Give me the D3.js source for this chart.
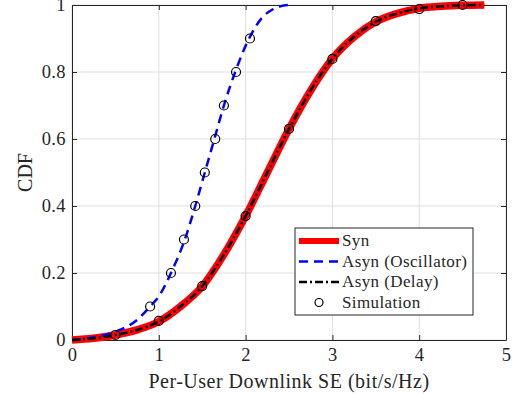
<!DOCTYPE html>
<html>
<head>
<meta charset="utf-8">
<script src="https://cdn.jsdelivr.net/npm/d3@7"></script>
<style>
body { margin: 0; background: #fff; }
text { font-family: "Liberation Serif", "DejaVu Serif", serif; fill: #262626; }
</style>
</head>
<body>
<div id="chart"></div>
<script>
// Syn curve (also Asyn Delay, overlapping)
var synX = [0, 0.25, 0.5, 0.75, 1, 1.25, 1.5, 1.75, 2, 2.25, 2.5, 2.75, 3, 3.25, 3.5, 3.75, 4, 4.25, 4.5, 4.75];
var synY = [0, 0.005, 0.015, 0.03, 0.055, 0.1, 0.16, 0.255, 0.37, 0.5, 0.63, 0.745, 0.84, 0.905, 0.95, 0.975, 0.99, 0.996, 0.999, 1.0];
var delayY = [0, 0.005, 0.015, 0.03, 0.055, 0.1, 0.16, 0.255, 0.37, 0.5, 0.63, 0.745, 0.84, 0.905, 0.95, 0.975, 0.99, 0.996, 0.999, 1.0];

// Asyn (Oscillator)
var oscX = [0, 0.25, 0.5, 0.75, 0.9, 1.0, 1.14, 1.3, 1.42, 1.53, 1.64, 1.75, 1.88, 2.04, 2.2, 2.3, 2.4, 2.5];
var oscY = [0, 0.008, 0.025, 0.06, 0.1, 0.13, 0.2, 0.3, 0.4, 0.5, 0.6, 0.7, 0.8, 0.9, 0.965, 0.985, 0.996, 1.0];

// Simulation markers
var simSynX = [0.5, 1, 1.5, 2, 2.5, 3, 3.5, 4, 4.5];
var simSynY = [0.015, 0.057, 0.161, 0.37, 0.63, 0.839, 0.952, 0.988, 1.0];
var simOscX = [0.9, 1.14, 1.29, 1.42, 1.53, 1.65, 1.75, 1.89, 2.05];
var simOscY = [0.1, 0.2, 0.3, 0.4, 0.5, 0.6, 0.7, 0.8, 0.9];

var xTicks = [0, 1, 2, 3, 4, 5];
var yTicks = [0, 0.2, 0.4, 0.6, 0.8, 1];

var W = 516, H = 395;
var margin = {top: 5, right: 10, bottom: 55, left: 72};
var width = W - margin.left - margin.right,
    height = H - margin.top - margin.bottom;

var svg = d3.select("#chart").append("svg")
    .attr("width", W)
    .attr("height", H);

var g = svg.append("g")
    .attr("transform", "translate(" + margin.left + "," + margin.top + ")");

var x = d3.scaleLinear().domain([0, 5]).range([0, width]);
var y = d3.scaleLinear().domain([0, 1]).range([height, 0]);

// grid
g.selectAll(".gx").data(xTicks).enter().append("line")
    .attr("x1", d => x(d)).attr("x2", d => x(d))
    .attr("y1", 0).attr("y2", height)
    .attr("stroke", "#dfdfdf").attr("stroke-width", 1);
g.selectAll(".gy").data(yTicks).enter().append("line")
    .attr("y1", d => y(d)).attr("y2", d => y(d))
    .attr("x1", 0).attr("x2", width)
    .attr("stroke", "#dfdfdf").attr("stroke-width", 1);

// axes
var xAxis = d3.axisBottom(x).tickValues(xTicks).tickFormat(d3.format("d")).tickSizeInner(-5).tickSizeOuter(0).tickPadding(8);
var yAxis = d3.axisLeft(y).tickValues(yTicks).tickFormat(d => d === 0 || d === 1 ? d : d3.format(".1f")(d)).tickSizeInner(-5).tickSizeOuter(0).tickPadding(6);

var gx = g.append("g").attr("transform", "translate(0," + height + ")").call(xAxis);
var gy = g.append("g").call(yAxis);
var gxt = g.append("g").call(d3.axisTop(x).tickValues(xTicks).tickFormat("").tickSizeInner(-5).tickSizeOuter(0));
var gyr = g.append("g").attr("transform", "translate(" + width + ",0)")
    .call(d3.axisRight(y).tickValues(yTicks).tickFormat("").tickSizeInner(-5).tickSizeOuter(0));

[gx, gy, gxt, gyr].forEach(function (a) {
    a.select(".domain").attr("stroke", "#262626").attr("stroke-width", 1);
    a.selectAll(".tick line").attr("stroke", "#262626");
    a.selectAll(".tick text").style("font-size", "18.5px").style("font-family", "Liberation Serif, serif")
        .style("letter-spacing", "0.4px").attr("fill", "#262626");
});

var line = d3.line()
    .x(d => x(d[0]))
    .y(d => y(d[1]))
    .curve(d3.curveMonotoneX);

var plot = g.append("g");

plot.append("path")
    .datum(synX.map((d, i) => [d, synY[i]]))
    .attr("d", line)
    .attr("fill", "none").attr("stroke", "#ff0000").attr("stroke-width", 7.5);

plot.append("path")
    .datum(oscX.map((d, i) => [d, oscY[i]]))
    .attr("d", line)
    .attr("fill", "none").attr("stroke", "#0000ff").attr("stroke-width", 2.5)
    .attr("stroke-dasharray", "9,6");

plot.append("path")
    .datum(synX.map((d, i) => [d, delayY[i]]))
    .attr("d", line)
    .attr("fill", "none").attr("stroke", "#000").attr("stroke-width", 2.5)
    .attr("stroke-dasharray", "8,3,2,3");

var sims = simSynX.map((d, i) => [d, simSynY[i]])
    .concat(simOscX.map((d, i) => [d, simOscY[i]]));

plot.selectAll(".sim").data(sims).enter().append("circle")
    .attr("cx", d => x(d[0])).attr("cy", d => y(d[1]))
    .attr("r", 4.5)
    .attr("fill", "none").attr("stroke", "#000").attr("stroke-width", 1.2);

// axis labels
svg.append("text")
    .attr("x", 289).attr("y", 388)
    .attr("text-anchor", "middle")
    .style("font-size", "20px")
    .style("letter-spacing", "0.5px")
    .text("Per-User Downlink SE (bit/s/Hz)");

svg.append("text")
    .attr("transform", "translate(32," + (margin.top + height / 2) + ") rotate(-90)")
    .attr("text-anchor", "middle")
    .style("font-size", "20px")
    .text("CDF");

// legend
var legX = 295, legY = 228;
var leg = svg.append("g");
leg.append("rect")
    .attr("x", legX).attr("y", legY).attr("width", 178).attr("height", 87)
    .attr("fill", "#fff").attr("stroke", "#262626").attr("stroke-width", 1);

var legItems = [
    {label: "Syn", color: "#ff0000", w: 6, dash: null},
    {label: "Asyn (Oscillator)", color: "#0000ff", w: 2.5, dash: "9,6"},
    {label: "Asyn (Delay)", color: "#000", w: 2.5, dash: "8,3,2,3"},
    {label: "Simulation", color: null}
];

legItems.forEach(function (d, i) {
    var yy = legY + 13 + i * 20.5;
    if (d.color) {
        leg.append("line")
            .attr("x1", legX + 4).attr("x2", legX + 44)
            .attr("y1", yy).attr("y2", yy)
            .attr("stroke", d.color).attr("stroke-width", d.w)
            .attr("stroke-dasharray", d.dash);
    } else {
        leg.append("circle")
            .attr("cx", legX + 24).attr("cy", yy).attr("r", 4)
            .attr("fill", "none").attr("stroke", "#000").attr("stroke-width", 1.2);
    }
    leg.append("text")
        .attr("x", legX + 47).attr("y", yy + 5)
        .style("font-size", "17px")
        .style("letter-spacing", "0.4px")
        .text(d.label);
});
</script>
</body>
</html>
